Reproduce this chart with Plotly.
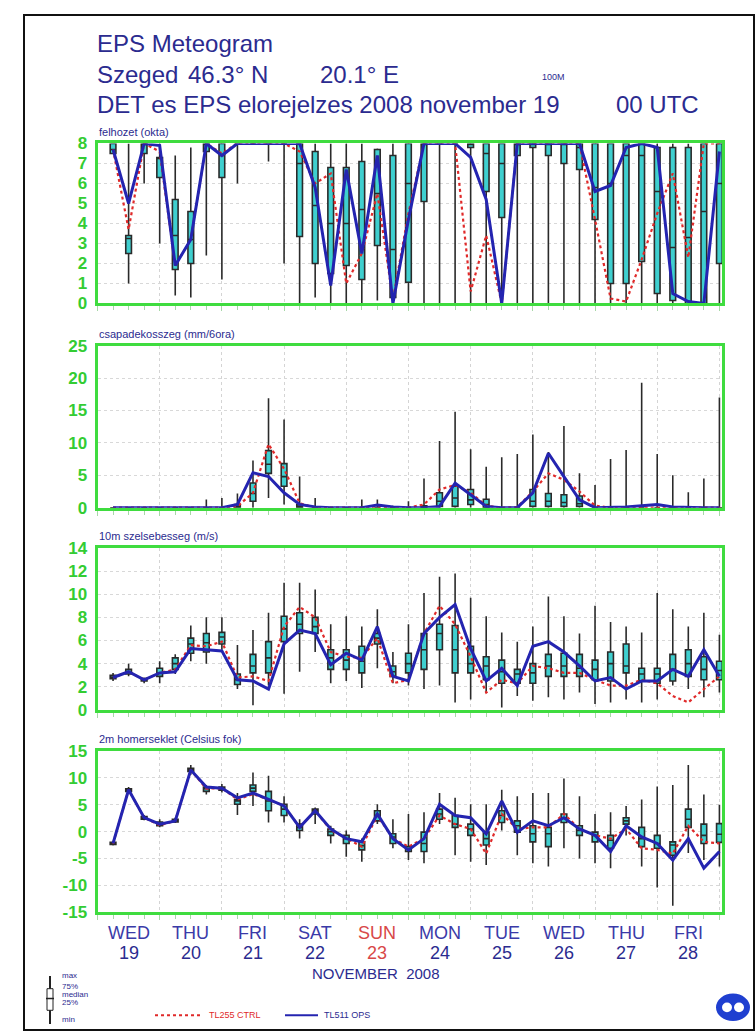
import plotly.graph_objects as go

W, H = 756, 1036

# ---------------- data ----------------
hours = list(range(6, 241, 6))  # forecast step (h) from 2008-11-19 00 UTC

day_names = ["WED", "THU", "FRI", "SAT", "SUN", "MON", "TUE", "WED", "THU", "FRI"]
day_nums = ["19", "20", "21", "22", "23", "24", "25", "26", "27", "28"]
day_centers = [12, 36, 60, 84, 108, 132, 156, 180, 204, 228]

cl_ticks = [0, 1, 2, 3, 4, 5, 6, 7, 8]
pr_ticks = [0, 5, 10, 15, 20, 25]
wd_ticks = [0, 2, 4, 6, 8, 10, 12, 14]
tp_ticks = [-15, -10, -5, 0, 5, 10, 15]

# total cloud cover (okta)
cl_ops = [7.7, 5.0, 8, 7.9, 1.9, 3.2, 8, 7.4, 8, 8, 8, 8, 8, 5.8, 0.9, 6.7, 2.5, 7.4, 0, 4.2,
          8, 8, 8, 7.3, 5.2, 0, 8, 8, 8, 8, 8, 5.6, 5.9, 7.8, 8, 7.8, 0.5, 0.1, 0, 7.6]
cl_ctrl = [7.7, 3.7, 8, 7.6, 1.9, 3.2, 8, 7.5, 8, 8, 8, 8, 7.6, 6.0, 6.5, 1.0, 2.5, 5.5, 0.2, 4.5,
           8, 8, 8, 0.6, 3.4, 0, 8, 8, 8, 8, 8, 4.2, 0.25, 0.1, 2.2, 4.5, 6.5, 2.3, 8, 8]
cl_min = [7.5, 1.0, 6.0, 3.0, 0.4, 0.3, 2.4, 1.2, 6.0, 8, 7.1, 2.0, 0, 0.3, 0, 0, 0, 0.15, 0, 0,
          0, 0, 0, 0, 0, 0, 0, 0, 0, 0, 0, 0, 0, 0, 0, 0, 0, 0, 0, 0]
cl_max = [8, 8, 8, 8, 7.4, 7.8, 7.8, 8, 8, 8, 8, 8, 8, 8, 8, 8, 8, 7.75, 8, 8,
          8, 8, 8, 8, 8, 8, 8, 8, 8, 8, 8, 8, 8, 8, 8, 8, 8, 8, 8, 8]
cl_q3 = [8, 3.4, 8, 7.3, 5.2, 4.6, 8, 8, 8, 8, 8, 8, 8, 7.6, 6.8, 6.8, 7.1, 7.7, 7.4, 8,
         8, 8, 8, 8, 8, 8, 8, 8, 8, 8, 8, 8, 8, 8, 8, 7.8, 7.8, 7.8, 8, 8]
cl_q1 = [7.5, 2.5, 7.5, 6.3, 1.7, 2.0, 7.6, 6.3, 8, 8, 8, 8, 3.35, 2.0, 1.5, 1.9, 1.2, 2.9, 0.3, 1.06,
         5.1, 8, 8, 7.8, 5.6, 4.3, 7.4, 7.8, 7.4, 7.0, 6.7, 4.2, 1.0, 1.0, 2.1, 0.5, 0.15, 0, 0, 2.0]
cl_med = [7.7, 3.25, 8, 7.3, 3.4, 3.2, 8, 7.4, 8, 8, 8, 8, 7.0, 4.9, 4.0, 4.0, 4.7, 5.5, 2.7, 6.0,
          8, 8, 8, 8, 7.5, 7.0, 8, 8, 8, 8, 7.8, 5.8, 6.0, 7.4, 7.4, 5.6, 2.8, 3.3, 4.6, 6.0]

# precipitation (mm / 6h)
pr_ops = [0, 0, 0, 0, 0, 0, 0, 0, 0.5, 5.4, 4.8, 2.3, 0.5, 0.1, 0, 0, 0, 0.4, 0.1, 0,
          0, 0.2, 3.8, 2.0, 0.2, 0, 0, 2.3, 8.4, 4.8, 1.2, 0, 0, 0.1, 0.3, 0.5, 0.1, 0, 0, 0]
pr_ctrl = [0, 0, 0, 0, 0, 0, 0, 0, 0.2, 2.3, 9.8, 6.0, 0.7, 0, 0, 0, 0, 0.2, 0, 0,
           0.5, 2.8, 3.5, 2.3, 0.3, 0, 0.1, 2.5, 5.3, 4.3, 2.5, 0.3, 0, 0, 0, 0, 0, 0, 0, 0]
pr_max = [0, 0, 0, 0, 0, 0, 1.25, 1.5, 2.2, 7.3, 16.9, 13.6, 4.8, 1.5, 0, 0, 1.25, 1.25, 0.3, 1.0,
          4.5, 10.3, 14.8, 9.0, 6.3, 7.8, 8.3, 11.3, 8.6, 12.6, 5.3, 3.5, 7.5, 8.9, 19.3, 8.3, 5.0, 2.4, 4.5, 17.0]
pr_min = [0, 0, 0, 0, 0, 0, 0, 0, 0, 0, 1.5, 0.5, 0, 0, 0, 0, 0, 0, 0, 0,
          0, 0, 0, 0, 0, 0, 0, 0, 0, 0, 0, 0, 0, 0, 0, 0, 0, 0, 0, 0]
pr_q3 = [0, 0, 0, 0, 0, 0, 0, 0, 0.5, 3.8, 8.8, 6.8, 0.5, 0, 0, 0, 0, 0, 0, 0,
         0.3, 2.3, 3.3, 2.8, 1.3, 0, 0, 2.8, 2.2, 2.0, 1.8, 0, 0, 0, 0, 0, 0, 0, 0, 0]
pr_q1 = [0, 0, 0, 0, 0, 0, 0, 0, 0, 1.0, 5.3, 3.3, 0, 0, 0, 0, 0, 0, 0, 0,
         0, 0.2, 0.2, 0.5, 0, 0, 0, 0.2, 0.2, 0.2, 0.2, 0, 0, 0, 0, 0, 0, 0, 0, 0]
pr_med = [0, 0, 0, 0, 0, 0, 0, 0, 0.2, 2.2, 6.7, 4.8, 0.2, 0, 0, 0, 0, 0, 0, 0,
          0.1, 1.0, 1.5, 1.2, 0.5, 0, 0, 1.0, 1.0, 0.8, 0.6, 0, 0, 0, 0, 0, 0, 0, 0, 0]

# 10 m wind speed (m/s)
wd_ops = [2.8, 3.3, 2.6, 3.2, 3.3, 5.3, 5.2, 5.1, 2.6, 2.5, 1.8, 5.7, 6.9, 6.6, 3.9, 4.9, 4.3, 7.2, 2.9, 2.5,
          6.6, 8.0, 9.1, 5.3, 2.5, 3.6, 2.1, 5.5, 5.9, 5.0, 3.8, 2.5, 2.8, 1.8, 2.5, 2.5, 3.5, 2.9, 5.2, 2.9]
wd_ctrl = [2.8, 3.3, 2.6, 3.2, 3.5, 5.6, 5.5, 5.9, 2.8, 2.9, 2.5, 7.2, 8.9, 8.0, 5.0, 4.6, 4.5, 6.2, 2.3, 2.6,
           6.6, 9.0, 7.4, 4.6, 1.5, 2.6, 2.3, 3.8, 3.6, 3.2, 3.2, 2.6, 2.1, 2.1, 2.6, 2.3, 1.2, 0.65, 1.8, 2.9]
wd_max = [3.2, 4.0, 2.8, 4.2, 4.8, 7.3, 8.0, 8.0, 5.6, 6.9, 8.4, 11.0, 11.0, 10.4, 7.4, 8.1, 7.2, 8.7, 5.0, 7.4,
          10.1, 11.5, 11.8, 9.7, 8.1, 6.7, 5.9, 7.2, 9.8, 8.1, 6.6, 9.0, 7.6, 7.2, 6.7, 10.1, 8.7, 7.2, 8.4, 6.5]
wd_min = [2.5, 2.9, 2.3, 2.3, 3.1, 4.2, 4.0, 5.2, 1.8, 0.4, 2.1, 1.4, 3.3, 5.0, 2.3, 2.5, 1.9, 3.6, 2.3, 2.1,
          1.8, 2.1, 0.65, 0.9, 1.5, 0.2, 1.2, 0.8, 1.1, 0.9, 1.5, 0.5, 0.65, 0.9, 0.65, 0.9, 2.1, 1.8, 1.1, 1.5]
wd_q3 = [3.0, 3.5, 2.7, 3.6, 4.5, 6.2, 6.6, 6.7, 3.1, 4.8, 5.9, 8.1, 8.4, 8.0, 5.2, 5.2, 5.5, 6.6, 3.8, 4.9,
         6.6, 7.4, 7.3, 5.5, 4.6, 4.3, 3.5, 4.0, 4.8, 4.9, 4.8, 4.3, 5.0, 5.7, 3.6, 3.6, 4.8, 5.2, 4.6, 4.2]
wd_q1 = [2.7, 3.1, 2.5, 2.9, 3.5, 4.9, 5.0, 5.7, 2.2, 3.2, 3.2, 5.9, 6.6, 6.6, 3.5, 3.5, 3.2, 5.7, 2.9, 3.2,
         3.5, 5.2, 3.2, 3.2, 2.6, 2.3, 2.3, 2.3, 2.9, 2.9, 2.9, 2.6, 2.5, 3.2, 2.5, 2.3, 2.5, 2.9, 2.6, 2.6]
wd_med = [2.85, 3.3, 2.6, 3.2, 4.0, 5.7, 5.8, 6.3, 2.6, 3.8, 4.5, 7.0, 7.4, 7.2, 4.5, 4.3, 4.2, 6.2, 3.3, 4.0,
          5.2, 6.6, 5.2, 4.0, 3.8, 3.3, 3.1, 3.2, 3.8, 3.8, 3.6, 3.5, 4.0, 3.8, 3.1, 3.1, 3.5, 4.0, 3.5, 3.4]

# 2 m temperature (Celsius)
tp_ops = [-2.2, 7.8, 2.6, 1.4, 2.0, 11.5, 8.3, 8.1, 6.3, 7.2, 6.0, 4.8, 0.8, 3.9, 0.5, -1.3, -1.9, 3.3, -1.3, -3.4,
          -1.3, 5.1, 3.0, 2.6, -0.4, 5.7, -0.1, 2.0, 1.1, 2.6, 0.5, -0.7, -3.7, 1.1, -1.0, -2.2, -5.3, -1.3, -6.8, -3.7]
tp_ctrl = [-2.2, 7.8, 2.6, 1.2, 2.0, 11.5, 8.0, 8.1, 6.0, 7.0, 6.0, 4.8, 0.8, 3.9, 0.3, -1.3, -2.8, 3.0, -1.3, -2.8,
           -1.3, 3.0, 1.4, 0.5, -4.1, 3.3, 0.5, 0.8, 0.8, 3.3, 0.5, -0.7, -1.3, 0.5, -3.1, -3.4, -4.1, 1.1, -1.9, -2.2]
tp_max = [-1.8, 8.3, 3.1, 2.3, 2.6, 12.4, 8.7, 8.9, 7.2, 11.0, 10.4, 6.6, 2.3, 4.5, 1.1, 0.2, -1.3, 5.1, 2.3, 3.3,
          3.6, 7.2, 6.3, 5.1, 5.1, 7.8, 6.6, 7.2, 7.2, 9.9, 6.6, 3.3, 3.6, 4.8, 6.0, 8.4, 8.7, 12.4, 6.9, 5.0]
tp_min = [-2.6, 7.2, 2.1, 0.8, 1.6, 10.6, 6.9, 7.3, 3.1, 4.8, 1.7, 1.7, -1.3, 1.4, -2.2, -4.7, -5.6, 1.4, -3.1, -5.3,
          -5.9, 1.4, -4.4, -5.6, -6.2, 0.2, -4.4, -5.9, -6.5, -3.1, -5.0, -5.9, -6.8, -0.7, -6.5, -10.4, -13.8, -4.0, -5.3, -6.5]
tp_q3 = [-2.0, 8.0, 2.8, 1.8, 2.3, 11.8, 8.3, 8.3, 6.0, 8.7, 7.5, 5.1, 1.4, 4.2, 0.5, -0.7, -1.9, 3.9, -0.4, -2.8,
         -0.1, 4.2, 3.0, 1.4, -0.1, 3.9, 2.0, 1.1, 0.8, 3.3, 1.1, -0.1, -0.7, 2.6, 0.8, -0.7, -1.9, 4.2, 1.4, 1.5]
tp_q1 = [-2.4, 7.5, 2.3, 1.1, 1.8, 11.2, 7.5, 7.7, 5.1, 7.5, 3.9, 3.0, 0.2, 3.3, -0.7, -2.2, -3.4, 2.0, -2.2, -3.7,
         -3.7, 2.3, 0.8, -0.7, -2.5, 1.7, -0.1, -1.9, -2.8, 1.7, -0.7, -1.9, -3.1, 1.4, -2.8, -3.1, -4.4, 0.8, -2.2, -2.0]
tp_med = [-2.2, 7.8, 2.6, 1.4, 2.0, 11.5, 8.0, 8.0, 5.7, 8.1, 5.7, 4.2, 0.8, 3.9, 0.0, -1.3, -2.6, 3.0, -1.0, -3.2,
          -2.2, 3.3, 1.4, 0.5, -1.3, 3.0, 1.1, -0.4, -0.4, 2.6, 0.2, -0.7, -1.6, 2.0, -1.3, -2.2, -2.5, 2.3, -0.7, -0.5]

panel_titles = ["felhozet (okta)", "csapadekosszeg (mm/6ora)",
                "10m szelsebesseg (m/s)", "2m homerseklet (Celsius fok)"]

# ---------------- styling ----------------
FONT = "Liberation Sans"
TXT = "#2b2b8f"
GREEN = "#3fdc3f"
TICKGREEN = "#33cc33"
BOXFILL = "#3fcfcf"
WHISK = "#2a2a2a"
BLUE = "#2424b0"
RED = "#e02a2a"


def pxx(x):
    return x / W


def pyy(y):
    return 1 - y / H


panels = [
    dict(top=137, bot=300, rng=[0, 8], ticks=cl_ticks, data=(cl_min, cl_q1, cl_med, cl_q3, cl_max, cl_ctrl, cl_ops)),
    dict(top=343, bot=508, rng=[0, 25], ticks=pr_ticks, data=(pr_min, pr_q1, pr_med, pr_q3, pr_max, pr_ctrl, pr_ops)),
    dict(top=549, bot=714, rng=[0, 14], ticks=wd_ticks, data=(wd_min, wd_q1, wd_med, wd_q3, wd_max, wd_ctrl, wd_ops)),
    dict(top=756, bot=920, rng=[-15, 15], ticks=tp_ticks, data=(tp_min, tp_q1, tp_med, tp_q3, tp_max, tp_ctrl, tp_ops)),
]

X_LEFT, X_RIGHT = 97.5, 722
XRANGE = [0, 241]

fig = go.Figure()
layout = dict(
    width=W, height=H,
    margin=dict(l=0, r=0, t=0, b=0),
    paper_bgcolor="white", plot_bgcolor="white",
    showlegend=False,
    font=dict(family=FONT, color=TXT),
)
annotations = []
shapes = []

for i, p in enumerate(panels):
    n = "" if i == 0 else str(i + 1)
    xa, ya = "x" + n, "y" + n
    mn, q1, med, q3, mx, ctrl, ops = p["data"]
    fig.add_trace(go.Box(
        x=hours, q1=q1, median=med, q3=q3, lowerfence=mn, upperfence=mx,
        width=2.2, whiskerwidth=0, boxpoints=False,
        fillcolor=BOXFILL, line=dict(color=WHISK, width=1.6),
        xaxis=xa, yaxis=ya, hoverinfo="skip",
    ))
    fig.add_trace(go.Scatter(
        x=hours, y=ctrl, mode="lines", line=dict(color=RED, width=2.2, dash="dot"),
        xaxis=xa, yaxis=ya, name="TL255 CTRL",
    ))
    fig.add_trace(go.Scatter(
        x=hours, y=ops, mode="lines", line=dict(color=BLUE, width=3),
        xaxis=xa, yaxis=ya, name="TL511 OPS",
    ))
    layout["xaxis" + n] = dict(
        domain=[pxx(X_LEFT), pxx(X_RIGHT)], range=XRANGE, anchor=ya,
        showline=True, mirror=True, linecolor=GREEN, linewidth=3,
        showticklabels=False, tick0=0, dtick=24, ticks="outside", ticklen=5,
        tickcolor="#a8d8a8", tickwidth=1,
        showgrid=True, gridcolor="#d4d4d4", griddash="dot", gridwidth=1,
        zeroline=False,
        minor=dict(dtick=6, tick0=0, ticks="outside", ticklen=4, tickcolor="#a8d8a8", showgrid=False),
    )
    layout["yaxis" + n] = dict(
        domain=[pyy(p["bot"]), pyy(p["top"])], range=p["rng"], anchor=xa,
        tickmode="array", tickvals=p["ticks"], ticktext=[str(v) for v in p["ticks"]],
        showline=True, mirror=True, linecolor=GREEN, linewidth=3,
        showgrid=True, gridcolor="#d8d8d8", griddash="dot", gridwidth=1,
        zeroline=False, ticks="",
        tickfont=dict(family=FONT, size=17, color=TICKGREEN, weight="bold"),
        ticklabelstandoff=4,
    )
    annotations.append(dict(
        text=panel_titles[i], x=pxx(97), y=pyy(p["top"] - 4), xref="paper", yref="paper",
        xanchor="left", yanchor="bottom", showarrow=False,
        font=dict(family=FONT, size=11, color=TXT),
    ))

# titles
TS = 24
annotations += [
    dict(text="EPS Meteogram", x=pxx(95), y=pyy(35), xanchor="left", yanchor="middle",
         font=dict(family=FONT, size=TS, color=TXT)),
    dict(text="Szeged", x=pxx(95), y=pyy(67), xanchor="left", yanchor="middle",
         font=dict(family=FONT, size=TS, color=TXT)),
    dict(text="46.3° N", x=pxx(186), y=pyy(67), xanchor="left", yanchor="middle",
         font=dict(family=FONT, size=TS, color=TXT)),
    dict(text="20.1° E", x=pxx(318), y=pyy(67), xanchor="left", yanchor="middle",
         font=dict(family=FONT, size=TS, color=TXT)),
    dict(text="100M", x=pxx(540), y=pyy(69), xanchor="left", yanchor="middle",
         font=dict(family=FONT, size=9, color=TXT)),
    dict(text="DET es EPS elorejelzes 2008 november 19", x=pxx(95), y=pyy(97), xanchor="left", yanchor="middle",
         font=dict(family=FONT, size=TS, color=TXT)),
    dict(text="00 UTC", x=pxx(614), y=pyy(97), xanchor="left", yanchor="middle",
         font=dict(family=FONT, size=TS, color=TXT)),
    dict(text="NOVEMBER  2008", x=pxx(376), y=pyy(983), xanchor="center", yanchor="middle",
         font=dict(family=FONT, size=15, color=TXT)),
]
for a in annotations[-8:]:
    a.update(xref="paper", yref="paper", showarrow=False)

# day labels
for c, dn, dd in zip(day_centers, day_names, day_nums):
    col = "#d84848" if dn == "SUN" else "#3a3aa8"
    annotations.append(dict(text=dn, x=c, xref="x4", y=pyy(941), yref="paper", xanchor="center",
                            yanchor="middle", showarrow=False, font=dict(family=FONT, size=18, color=col)))
    annotations.append(dict(text=dd, x=c, xref="x4", y=pyy(962), yref="paper", xanchor="center",
                            yanchor="middle", showarrow=False,
                            font=dict(family=FONT, size=18, color="#d84848" if dn == "SUN" else TXT)))

# box legend (bottom-left)
for lbl, yy in [("max", 985), ("75%", 996), ("median", 1004), ("25%", 1012), ("min", 1029)]:
    annotations.append(dict(text=lbl, x=pxx(60), y=pyy(yy), xref="paper", yref="paper",
                            xanchor="left", yanchor="middle", showarrow=False,
                            font=dict(family=FONT, size=8, color=TXT)))
shapes += [
    dict(type="line", x0=pxx(50), x1=pxx(50), y0=pyy(985), y1=pyy(1034), xref="paper", yref="paper",
         line=dict(color="#222", width=2)),
    dict(type="rect", x0=pxx(47), x1=pxx(53), y0=pyy(998), y1=pyy(1020), xref="paper", yref="paper",
         line=dict(color="#222", width=1), fillcolor="white"),
    dict(type="line", x0=pxx(46), x1=pxx(54), y0=pyy(1008), y1=pyy(1008), xref="paper", yref="paper",
         line=dict(color="#222", width=1.5)),
]

# line legend
shapes += [
    dict(type="line", x0=pxx(155), x1=pxx(203), y0=pyy(1025), y1=pyy(1025), xref="paper", yref="paper",
         line=dict(color=RED, width=2, dash="dot")),
    dict(type="line", x0=pxx(285), x1=pxx(318), y0=pyy(1025), y1=pyy(1025), xref="paper", yref="paper",
         line=dict(color=BLUE, width=2)),
]
annotations += [
    dict(text="TL255 CTRL", x=pxx(207), y=pyy(1025), xref="paper", yref="paper", xanchor="left",
         yanchor="middle", showarrow=False, font=dict(family=FONT, size=9, color=RED)),
    dict(text="TL511 OPS", x=pxx(322), y=pyy(1025), xref="paper", yref="paper", xanchor="left",
         yanchor="middle", showarrow=False, font=dict(family=FONT, size=9, color=TXT)),
]

# logo (bottom-right)
shapes += [
    dict(type="circle", x0=pxx(716), x1=pxx(750), y0=pyy(1031), y1=pyy(1003), xref="paper", yref="paper",
         line=dict(width=0), fillcolor="#1f3fd0"),
    dict(type="circle", x0=pxx(722), x1=pxx(732), y0=pyy(1022), y1=pyy(1012), xref="paper", yref="paper",
         line=dict(width=0), fillcolor="white"),
    dict(type="circle", x0=pxx(734), x1=pxx(744), y0=pyy(1022), y1=pyy(1012), xref="paper", yref="paper",
         line=dict(width=0), fillcolor="white"),
]

# outer frame
shapes.append(dict(type="rect", x0=pxx(24), x1=pxx(754), y0=pyy(1040), y1=pyy(6), xref="paper", yref="paper",
                   line=dict(color="#111", width=2), fillcolor="rgba(0,0,0,0)", layer="below"))

layout["annotations"] = annotations
layout["shapes"] = shapes
fig.update_layout(**layout)
fig.write_html("out.html", config={"displayModeBar": False},
               post_script="document.body.style.margin='0';document.body.style.overflow='hidden';")
